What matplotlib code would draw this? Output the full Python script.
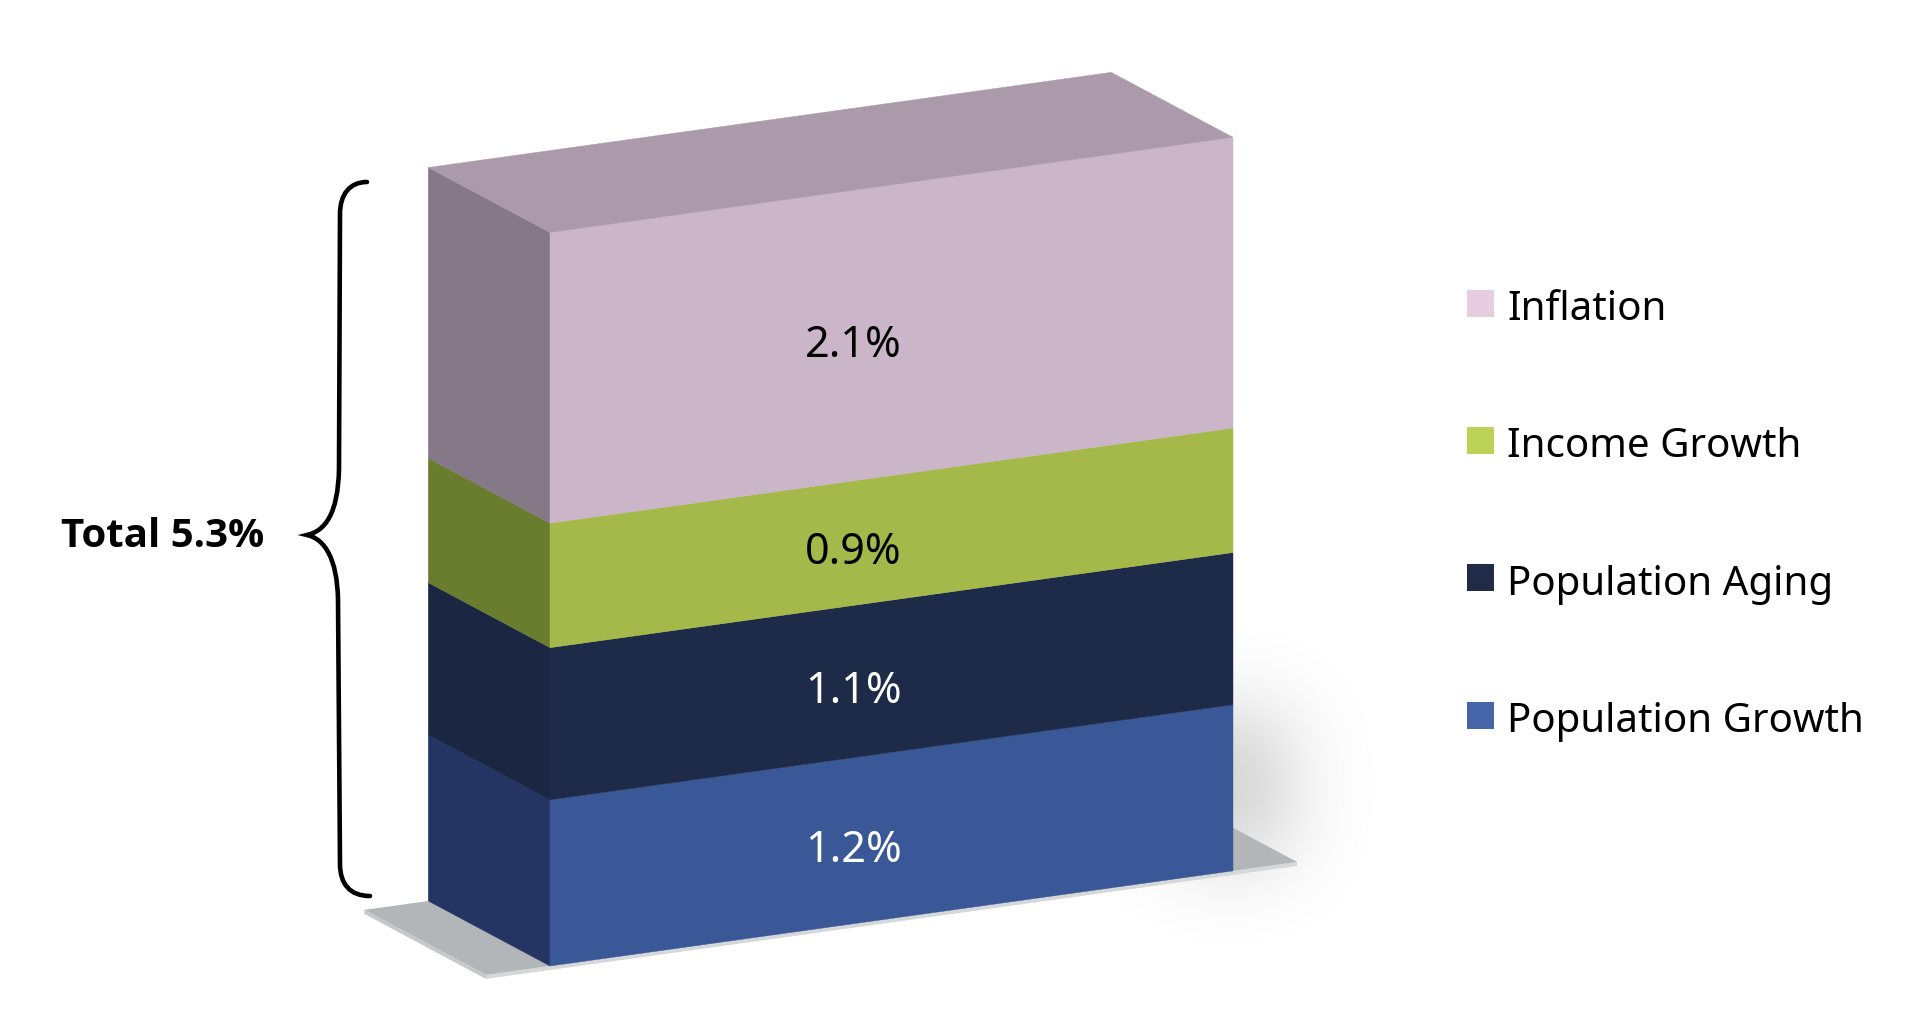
import numpy as np
import matplotlib.pyplot as plt
from matplotlib.patches import Polygon, Rectangle, PathPatch
from matplotlib.path import Path

plt.rcParams['font.family'] = ['Noto Sans', 'DejaVu Sans']

#%% data (bottom to top of the stack)
categories = ['Population Growth', 'Population Aging', 'Income Growth', 'Inflation']
values = [1.2, 1.1, 0.9, 2.1]
value_labels = ['1.2%', '1.1%', '0.9%', '2.1%']
total_label = 'Total 5.3%'

front_colors = ['#3a5898', '#1e2b48', '#a4b94a', '#cbb5c8']
side_colors = ['#243563', '#1b2643', '#6a7d2f', '#857988']
top_color = '#ab9aaa'
legend_colors = ['#4565a8', '#1f2b47', '#bcd257', '#e6cde0']
label_colors = ['white', 'white', 'black', 'black']

#%% figure in pixel coordinates
W, H = 1932, 1020
fig = plt.figure(figsize=(W / 100, H / 100), dpi=100)
ax = fig.add_axes([0, 0, 1, 1])

# geometry of the 3d block
x0, y0 = 550, 967          # front bottom-left corner
bw = 683                   # front width
skew = -0.1393             # tilt of the front face
unit = 138.4               # pixels per percentage point
dx, dy = -121.7, -65       # depth vector
pad = 64                   # floor overhang

def fy(x, h):
    return y0 + skew * (x - x0) - h * unit

# soft shadow right of the block
gx = np.arange(1060, 1540, 2)
gy = np.arange(560, 1020, 2)
X, Y = np.meshgrid(gx, gy)
mask = ((X > 1175) & (X < 1285) & (Y > 715) & (Y < 860)).astype(float)
k = np.arange(-60, 61)
kern = np.exp(-0.5 * (k / 20.0) ** 2)
kern /= kern.sum()
blur = np.apply_along_axis(lambda r: np.convolve(r, kern, mode='same'), 1, mask)
blur = np.apply_along_axis(lambda c: np.convolve(c, kern, mode='same'), 0, blur)
rgba = np.zeros(blur.shape + (4,))
rgba[..., :3] = 0.5
rgba[..., 3] = 0.30 * blur / blur.max()
ax.imshow(rgba, extent=(gx[0], gx[-1], gy[-1], gy[0]), origin='upper',
          aspect='auto', zorder=0, interpolation='bilinear')

# floor plate
f1 = (x0 - pad, fy(x0 - pad, 0))
f2 = (x0 + bw + pad, fy(x0 + bw + pad, 0))
f3 = (f2[0] + dx, f2[1] + dy)
f4 = (f1[0] + dx, f1[1] + dy)
th = 4
ax.add_patch(Polygon([f4, f1, (f1[0], f1[1] + th), (f4[0], f4[1] + th)],
                     closed=True, facecolor='#c6c8ca', edgecolor='none', zorder=1))
ax.add_patch(Polygon([f1, f2, (f2[0], f2[1] + th), (f1[0], f1[1] + th)],
                     closed=True, facecolor='#d5d7d9', edgecolor='none', zorder=1))
ax.add_patch(Polygon([f1, f2, f3, f4], closed=True,
                     facecolor='#b3b6b9', edgecolor='none', zorder=2))

# stacked block
cum = np.concatenate([[0], np.cumsum(values)])
xr = x0 + bw
for i in range(len(values)):
    b, t = cum[i], cum[i + 1]
    side = [(x0 + dx, fy(x0, b) + dy), (x0, fy(x0, b)),
            (x0, fy(x0, t)), (x0 + dx, fy(x0, t) + dy)]
    front = [(x0, fy(x0, b)), (xr, fy(xr, b)), (xr, fy(xr, t)), (x0, fy(x0, t))]
    ax.add_patch(Polygon(side, closed=True, facecolor=side_colors[i],
                         edgecolor=side_colors[i], lw=0.3, zorder=3))
    ax.add_patch(Polygon(front, closed=True, facecolor=front_colors[i],
                         edgecolor=front_colors[i], lw=0.3, zorder=4))
    lx = x0 + 0.444 * bw
    ax.text(lx, fy(lx, (b + t) / 2) + 20, value_labels[i], ha='center',
            va='baseline', fontsize=31, color=label_colors[i], zorder=6)

T = cum[-1]
top = [(x0, fy(x0, T)), (xr, fy(xr, T)),
       (xr + dx, fy(xr, T) + dy), (x0 + dx, fy(x0, T) + dy)]
ax.add_patch(Polygon(top, closed=True, facecolor=top_color,
                     edgecolor=top_color, lw=0.3, zorder=5))

# curly brace with total
verts = [(367, 183), (350, 183), (340, 195), (340, 215),
         (339, 470),
         (338, 515), (325, 532), (307, 536),
         (325, 540), (337, 560), (338, 600),
         (340, 865),
         (340, 885), (350, 897), (370, 897)]
codes = [Path.MOVETO, Path.CURVE4, Path.CURVE4, Path.CURVE4,
         Path.LINETO,
         Path.CURVE4, Path.CURVE4, Path.CURVE4,
         Path.CURVE4, Path.CURVE4, Path.CURVE4,
         Path.LINETO,
         Path.CURVE4, Path.CURVE4, Path.CURVE4]
ax.add_patch(PathPatch(Path(verts, codes), facecolor='none', edgecolor='black',
                       lw=3.3, capstyle='round', zorder=6))
ax.text(163, 547, total_label, ha='center', va='baseline', fontsize=29,
        fontweight='bold', color='black',
        family=['Open Sans', 'Lato', 'DejaVu Sans'])

# legend (top entry first)
leg_y0, leg_step, sq = 304, 137.4, 27
for j, i in enumerate(reversed(range(len(categories)))):
    cy = leg_y0 + j * leg_step
    ax.add_patch(Rectangle((1467, cy - sq / 2), sq, sq,
                           facecolor=legend_colors[i], edgecolor='none'))
    ax.text(1507, cy + 16, categories[i], ha='left', va='baseline',
            fontsize=29, color='black')

ax.set_xlim(0, W)
ax.set_ylim(H, 0)
ax.axis('off')
fig.savefig('out.png', dpi=100, facecolor='white')
